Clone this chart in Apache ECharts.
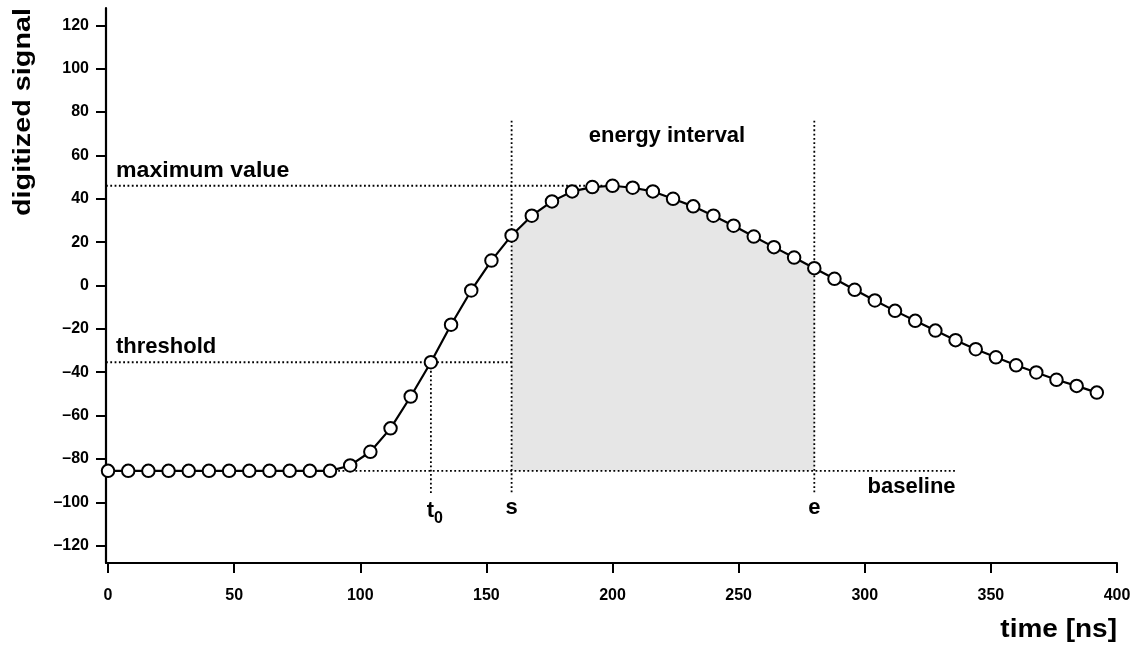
<!DOCTYPE html>
<html>
<head>
<meta charset="utf-8">
<script src="https://cdn.jsdelivr.net/npm/echarts@6/dist/echarts.min.js"></script>
<style>
html,body{margin:0;padding:0;background:#fff;}
#chart{width:1136px;height:645px;}
</style>
</head>
<body>
<div id="chart"></div>
<script>
// ---- data ----
const timeNs = [0, 8, 16, 24, 32, 40, 48, 56, 64, 72, 80, 88, 96, 104, 112, 120, 128, 136, 144, 152,
  160, 168, 176, 184, 192, 200, 208, 216, 224, 232, 240, 248, 256, 264, 272, 280, 288, 296, 304, 312,
  320, 328, 336, 344, 352, 360, 368, 376, 384, 392];
const signal = [-85.5, -85.5, -85.5, -85.5, -85.5, -85.5, -85.5, -85.5, -85.5, -85.5, -85.5, -85.5,
  -83.0, -76.7, -65.9, -51.2, -35.4, -18.1, -2.3, 11.5,
  23.1, 32.2, 38.8, 43.4, 45.4, 46.0, 45.1, 43.4, 40.0, 36.5,
  32.2, 27.6, 22.6, 17.7, 12.9, 8.0, 3.1, -2.0, -6.9, -11.7,
  -16.3, -20.8, -25.2, -29.4, -33.1, -36.8, -40.1, -43.5, -46.3, -49.4];
const xTicks = [0, 50, 100, 150, 200, 250, 300, 350, 400];
const yTicks = [-120, -100, -80, -60, -40, -20, 0, 20, 40, 60, 80, 100, 120];

// annotation values
const baselineValue = -85.5;
const thresholdValue = -35.4;
const maxValue = 46;
const maxTime = 200;
const t0Time = 128;
const sTime = 160;
const eTime = 280;
const baselineEndTime = 336;
const markerTop = 76;
const markerBottom = -96;
const labels = {
  maxLabel: 'maximum value',
  thrLabel: 'threshold',
  energyLabel: 'energy interval',
  baseLabel: 'baseline',
  sLabel: 's',
  eLabel: 'e',
  xTitle: 'time [ns]',
  yTitle: 'digitized signal'
};

const xMin = -0.8, xMax = 400, yMin = -128, yMax = 128;
const FONT = '"Liberation Sans", Arial, Helvetica, sans-serif';

const signalData = timeNs.map((t, i) => [t, signal[i]]);
const areaData = signalData.filter(p => p[0] >= sTime && p[0] <= eTime);

const dotted = { color: '#000', width: 1.8, type: [1.8, 2.5] };
function dottedSeries(points) {
  return {
    type: 'line', data: points, symbol: 'none', silent: true,
    lineStyle: dotted, z: 3, animation: false
  };
}

const chart = echarts.init(document.getElementById('chart'), null, { renderer: 'canvas' });
const option = {
  animation: false,
  backgroundColor: '#fff',
  grid: { left: 106, right: 19, top: 8, bottom: 82 },
  xAxis: {
    type: 'value', min: xMin, max: xMax,
    axisLine: { show: true, onZero: false, lineStyle: { color: '#000', width: 2.2 } },
    axisTick: { show: true, length: 10, lineStyle: { color: '#000', width: 2 }, customValues: xTicks },
    axisLabel: { customValues: xTicks, color: '#000', fontSize: 16, fontWeight: 'bold', fontFamily: FONT, margin: 25 },
    splitLine: { show: false }
  },
  yAxis: {
    type: 'value', min: yMin, max: yMax,
    axisLine: { show: true, onZero: false, lineStyle: { color: '#000', width: 2.2 } },
    axisTick: { show: true, length: 10, lineStyle: { color: '#000', width: 2 }, customValues: yTicks },
    axisLabel: {
      customValues: yTicks, color: '#000', fontSize: 16, fontWeight: 'bold', fontFamily: FONT, margin: 17,
      formatter: v => String(v).replace('-', '\u2013')
    },
    splitLine: { show: false }
  },
  series: [
    {
      type: 'line', data: areaData, symbol: 'none', silent: true,
      lineStyle: { width: 0 },
      areaStyle: { color: '#e6e6e6', opacity: 1, origin: baselineValue },
      z: 1
    },
    dottedSeries([[xMin, baselineValue], [baselineEndTime, baselineValue]]),
    dottedSeries([[xMin, thresholdValue], [sTime, thresholdValue]]),
    dottedSeries([[xMin, maxValue], [maxTime, maxValue]]),
    dottedSeries([[sTime, markerTop], [sTime, markerBottom]]),
    dottedSeries([[eTime, markerTop], [eTime, markerBottom]]),
    dottedSeries([[t0Time, thresholdValue], [t0Time, markerBottom]]),
    {
      type: 'line', data: signalData,
      symbol: 'circle', symbolSize: 12.5, showAllSymbol: true,
      lineStyle: { color: '#000', width: 2.2 },
      itemStyle: { color: '#fff', borderColor: '#000', borderWidth: 2 },
      z: 10
    }
  ]
};
chart.setOption(option);

const px = (x, y) => chart.convertToPixel({ gridIndex: 0 }, [x, y]);
const txt = (x, y, text, size, align, vAlign, extra) => Object.assign({
  type: 'text', x: x, y: y, silent: true, z: 100,
  style: { text: text, fill: '#000', font: 'bold ' + size + 'px ' + FONT, align: align, verticalAlign: vAlign }
}, extra || {});

const pMax = px(xMin, maxValue);
const pThr = px(xMin, thresholdValue);
const pEnergy = px((sTime + eTime) / 2, markerTop);
const pBase = px(baselineEndTime, baselineValue);
const pS = px(sTime, markerBottom);
const pE = px(eTime, markerBottom);
const pT0 = px(t0Time, markerBottom);
const pXEnd = px(xMax, yMin);

chart.setOption({
  graphic: [
    txt(pMax[0] + 10, pMax[1] - 4, labels.maxLabel, 22, 'left', 'bottom', { scaleX: 1.05 }),
    txt(pThr[0] + 10, pThr[1] - 4, labels.thrLabel, 22, 'left', 'bottom'),
    txt(pEnergy[0] + 4, pEnergy[1] + 15, labels.energyLabel, 22, 'center', 'middle'),
    txt(pBase[0], pBase[1] + 5, labels.baseLabel, 22, 'right', 'top'),
    txt(pS[0], pS[1] + 14, labels.sLabel, 22, 'center', 'middle'),
    txt(pE[0], pE[1] + 14, labels.eLabel, 22, 'center', 'middle'),
    {
      type: 'text', x: pT0[0] + 4, y: pT0[1] + 6, silent: true, z: 100,
      style: {
        text: '{a|t}{b|0}', align: 'center', verticalAlign: 'top',
        rich: {
          a: { fontSize: 22, fontWeight: 'bold', fontFamily: FONT, fill: '#000', padding: [0, 0, 5, 0] },
          b: { fontSize: 16, fontWeight: 'bold', fontFamily: FONT, fill: '#000', verticalAlign: 'bottom' }
        }
      }
    },
    txt(pXEnd[0], 630, labels.xTitle, 25, 'right', 'middle', { scaleX: 1.12 }),
    txt(23, 112, labels.yTitle, 24, 'center', 'middle', { rotation: Math.PI / 2, scaleX: 1.2 })
  ]
});
</script>
</body>
</html>
